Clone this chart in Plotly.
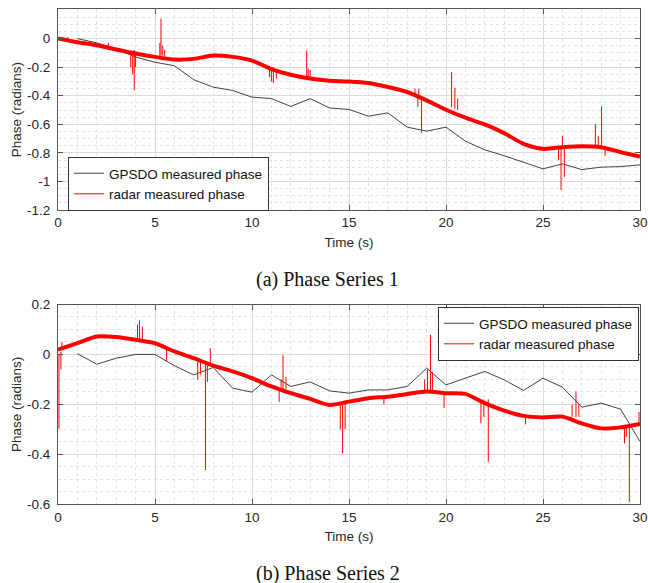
import plotly.graph_objects as go

# ---------------- data ----------------
t_sec = list(range(0, 31))
gps_t = list(range(1, 31))

# Phase series 1
radar1_trend = [0.0, -0.026, -0.047, -0.077, -0.105, -0.128, -0.147, -0.142, -0.119, -0.128,
                -0.154, -0.213, -0.253, -0.28, -0.295, -0.30, -0.311, -0.339, -0.374, -0.433,
                -0.498, -0.554, -0.601, -0.662, -0.737, -0.772, -0.760, -0.753, -0.76, -0.795, -0.826]
gps1 = [0.0, -0.03, -0.073, -0.129, -0.166, -0.19, -0.288, -0.34, -0.363, -0.41,
        -0.42, -0.475, -0.42, -0.486, -0.496, -0.543, -0.52, -0.62, -0.648, -0.62,
        -0.718, -0.779, -0.82, -0.866, -0.912, -0.877, -0.917, -0.9, -0.896, -0.884]
spike1_t = [0.5, 2.6, 3.75, 3.85, 3.93, 4.0, 5.25, 5.31, 5.4, 5.5, 10.9, 11.0, 11.1, 11.25,
            12.82, 12.9, 13.0, 18.4, 18.55, 18.6, 18.74, 20.29, 20.46, 20.6, 25.8, 25.93,
            26.0, 26.1, 27.7, 27.85, 28.02, 28.2]
spike1_lo = [-0.02, -0.06, -0.10, -0.09, -0.08, -0.10, -0.12, -0.12, -0.12, -0.13, -0.19, -0.2,
             -0.2, -0.22, -0.27, -0.27, -0.28, -0.39, -0.39, -0.40, -0.41, -0.48, -0.49, -0.50,
             -0.76, -0.76, -0.75, -0.76, -0.75, -0.75, -0.75, -0.76]
spike1_hi = [0.01, -0.03, -0.20, -0.25, -0.363, -0.2, -0.03, 0.14, -0.05, -0.08, -0.27, -0.3,
             -0.31, -0.28, -0.084, -0.21, -0.22, -0.35, -0.48, -0.35, -0.66, -0.234, -0.344, -0.42,
             -0.85, -1.06, -0.68, -0.97, -0.60, -0.68, -0.475, -0.82]

# Phase series 2
radar2_trend = [0.019, 0.045, 0.072, 0.07, 0.059, 0.045, 0.012, -0.015, -0.045, -0.068,
                -0.095, -0.128, -0.155, -0.178, -0.202, -0.189, -0.175, -0.169, -0.158, -0.148,
                -0.155, -0.158, -0.195, -0.225, -0.246, -0.252, -0.249, -0.276, -0.296, -0.292, -0.278]
gps2 = [0.003, -0.039, -0.015, 0.0, 0.0, -0.045, -0.082, -0.052, -0.135, -0.151,
        -0.082, -0.128, -0.11, -0.146, -0.155, -0.142, -0.142, -0.128, -0.055, -0.122,
        -0.095, -0.068, -0.102, -0.144, -0.095, -0.131, -0.211, -0.195, -0.219, -0.349]
spike2_t = [0.05, 0.15, 0.2, 4.1, 4.2, 4.35, 5.6, 7.2, 7.35, 7.6, 7.7, 7.85, 11.4, 11.5, 11.6,
            11.75, 14.55, 14.67, 14.8, 16.8, 18.9, 19.05, 19.2, 19.3, 19.9, 21.8, 21.95, 22.18,
            24.1, 26.5, 26.7, 26.85, 29.2, 29.3, 29.45, 29.95]
spike2_lo = [0.0, 0.01, 0.02, 0.06, 0.06, 0.06, 0.03, -0.03, -0.03, -0.04, -0.04, -0.04, -0.14,
             -0.14, -0.14, -0.14, -0.19, -0.19, -0.19, -0.17, -0.15, -0.15, -0.15, -0.15, -0.15,
             -0.18, -0.18, -0.18, -0.24, -0.25, -0.25, -0.25, -0.29, -0.29, -0.29, -0.28]
spike2_hi = [-0.296, -0.06, 0.05, 0.12, 0.136, 0.11, -0.028, -0.10, -0.08, -0.463, -0.11, 0.025,
             -0.19, -0.1, -0.003, -0.09, -0.3, -0.396, -0.3, -0.2, -0.1, -0.06, 0.079, -0.07,
             -0.215, -0.276, -0.25, -0.43, -0.28, -0.2, -0.148, -0.2, -0.356, -0.33, -0.59, -0.23]

x_ticks = [0, 5, 10, 15, 20, 25, 30]
y1_ticks = [-1.2, -1, -0.8, -0.6, -0.4, -0.2, 0]
y1_labels = ["-1.2", "-1", "-0.8", "-0.6", "-0.4", "-0.2", "0"]
y2_ticks = [-0.6, -0.4, -0.2, 0, 0.2]
y2_labels = ["-0.6", "-0.4", "-0.2", "0", "0.2"]

RED = "#ff0000"
GPS_C = "#2b2b2b"
FONT = "Liberation Sans"


def segs(ts, lo, hi):
    xs, ys = [], []
    for t, a, b in zip(ts, lo, hi):
        xs += [t, t, None]
        ys += [a, b, None]
    return xs, ys


fig = go.Figure()

# ---- top panel ----
fig.add_trace(go.Scatter(x=gps_t, y=gps1, mode="lines", name="GPSDO measured phase",
                         line=dict(color=GPS_C, width=0.9), xaxis="x", yaxis="y", legend="legend"))
sx, sy = segs(spike1_t, spike1_lo, spike1_hi)
fig.add_trace(go.Scatter(x=sx, y=sy, mode="lines", name="radar measured phase",
                         line=dict(color=RED, width=1), xaxis="x", yaxis="y", legend="legend"))
fig.add_trace(go.Scatter(x=t_sec, y=radar1_trend, mode="lines", showlegend=False,
                         line=dict(color=RED, width=4, shape="spline", smoothing=0.7),
                         xaxis="x", yaxis="y"))

# ---- bottom panel ----
fig.add_trace(go.Scatter(x=gps_t, y=gps2, mode="lines", name="GPSDO measured phase",
                         line=dict(color=GPS_C, width=0.9), xaxis="x2", yaxis="y2", legend="legend2"))
sx2, sy2 = segs(spike2_t, spike2_lo, spike2_hi)
fig.add_trace(go.Scatter(x=sx2, y=sy2, mode="lines", name="radar measured phase",
                         line=dict(color=RED, width=1), xaxis="x2", yaxis="y2", legend="legend2"))
fig.add_trace(go.Scatter(x=t_sec, y=radar2_trend, mode="lines", showlegend=False,
                         line=dict(color=RED, width=4, shape="spline", smoothing=0.7),
                         xaxis="x2", yaxis="y2"))

common = dict(showline=True, linecolor="#555555", linewidth=1, mirror="ticks",
              ticks="inside", ticklen=5, tickcolor="#555555", showgrid=True,
              gridcolor="#dcdcdc", gridwidth=1, zeroline=False, automargin=False,
              tickfont=dict(family=FONT, size=13.5, color="#262626"))


def xaxis(domain, anchor):
    return dict(common, domain=domain, anchor=anchor, range=[0, 30], tickmode="array",
                tickvals=x_ticks, ticktext=[str(v) for v in x_ticks],
                minor=dict(showgrid=True, gridcolor="#e4e4e4", griddash="dot",
                           tickmode="linear", tick0=0, dtick=1),
                title=dict(text="Time (s)", font=dict(family=FONT, size=13.5, color="#262626"),
                           standoff=8))


def yaxis(domain, anchor, rng, tv, tt):
    return dict(common, domain=domain, anchor=anchor, range=rng, tickmode="array",
                tickvals=tv, ticktext=tt, ticklabelstandoff=4,
                minor=dict(showgrid=True, gridcolor="#e4e4e4", griddash="dot",
                           tickmode="linear", tick0=0, dtick=0.05),
                title=dict(text="Phase (radians)", font=dict(family=FONT, size=13.5, color="#262626"),
                           standoff=2))


W, H = 648, 583
xd = [58 / W, 640 / W]
fig.update_layout(
    width=W, height=H, margin=dict(l=0, r=0, t=0, b=0, autoexpand=False),
    paper_bgcolor="white", plot_bgcolor="white",
    xaxis=xaxis(xd, "y"),
    yaxis=yaxis([1 - 210 / H, 1 - 9.3 / H], "x", [-1.2, 0.205], y1_ticks, y1_labels),
    xaxis2=xaxis(xd, "y2"),
    yaxis2=yaxis([1 - 504.3 / H, 1 - 304.5 / H], "x2", [-0.6, 0.2], y2_ticks, y2_labels),
    legend=dict(x=68 / W, y=1 - 157 / H, xanchor="left", yanchor="top",
                bgcolor="white", bordercolor="#333333", borderwidth=1,
                font=dict(family=FONT, size=13.5, color="#111111"), tracegroupgap=0),
    legend2=dict(x=639 / W, y=1 - 307 / H, xanchor="right", yanchor="top",
                 bgcolor="white", bordercolor="#333333", borderwidth=1,
                 font=dict(family=FONT, size=13.5, color="#111111"), tracegroupgap=0),
    showlegend=True,
    annotations=[
        dict(text="(a) Phase Series 1", x=327 / W, y=1 - 279 / H, xref="paper", yref="paper",
             xanchor="center", yanchor="middle", showarrow=False,
             font=dict(family="Liberation Serif", size=20, color="#111111")),
        dict(text="(b) Phase Series 2", x=328 / W, y=1 - 573 / H, xref="paper", yref="paper",
             xanchor="center", yanchor="middle", showarrow=False,
             font=dict(family="Liberation Serif", size=20, color="#111111")),
    ],
)

fig.write_html("out.html")
